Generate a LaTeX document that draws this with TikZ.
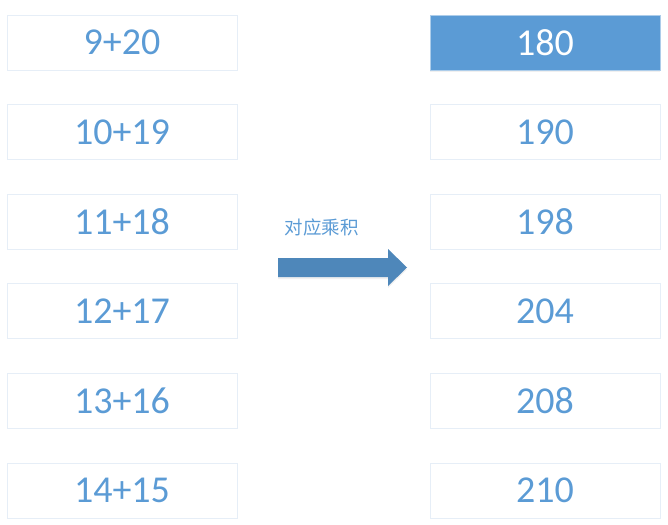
\documentclass[tikz,border=0pt]{standalone}
\usepackage{fontspec}
\setmainfont{Carlito}
\newfontfamily\cjk{Noto Sans CJK SC}
\usetikzlibrary{shadows}
\definecolor{numblue}{HTML}{5B9BD5}
\definecolor{boxline}{HTML}{E6EEF7}
\definecolor{arrowblue}{HTML}{4E87BA}
\tikzset{
  sumbox/.style={draw=boxline, line width=0.9pt,
                 minimum width=230pt, minimum height=55pt,
                 inner sep=0pt, text=numblue,
                 font=\fontsize{38}{40}\selectfont},
  hotbox/.style={sumbox, fill=numblue, draw=numblue!50!white,
                 text=white,
                 drop shadow={opacity=0.12, shadow xshift=0pt,
                              shadow yshift=-2pt}}
}
\begin{document}
\begin{tikzpicture}[x=1pt,y=-1pt]
  \useasboundingbox (0,0) rectangle (668,524);
  % sums
  \node[sumbox] (s1) at (122,42.5)  {9+20};
  \node[sumbox] (s2) at (122,132.1) {10+19};
  \node[sumbox] (s3) at (122,221.7) {11+18};
  \node[sumbox] (s4) at (122,311.3) {12+17};
  \node[sumbox] (s5) at (122,400.9) {13+16};
  \node[sumbox] (s6) at (122,490.5) {14+15};
  % products
  \node[hotbox] (p1) at (545,42.5)  {180};
  \node[sumbox] (p2) at (545,132.1) {190};
  \node[sumbox] (p3) at (545,221.7) {198};
  \node[sumbox] (p4) at (545,311.3) {204};
  \node[sumbox] (p5) at (545,400.9) {208};
  \node[sumbox] (p6) at (545,490.5) {210};
  % arrow
  \node[text=numblue, inner sep=0pt,
        font=\cjk\fontsize{18.5}{20}\selectfont]
    (lbl) at (321.5,227) {对应乘积};
  \fill[arrowblue,
        drop shadow={opacity=0.12, shadow xshift=0pt,
                     shadow yshift=-2pt}]
    (278,258) -- (388,258) -- (388,249)
      -- (407,267.5) -- (388,286) -- (388,277)
      -- (278,277) -- cycle;
\end{tikzpicture}
\end{document}
